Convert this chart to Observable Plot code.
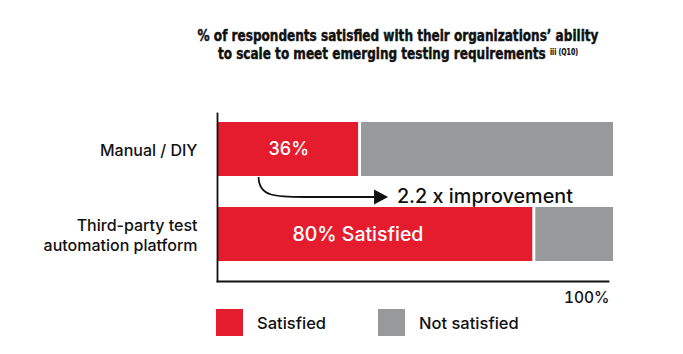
<!DOCTYPE html>
<html><head><meta charset="utf-8">
<script src="https://cdn.jsdelivr.net/npm/d3@7"></script>
<script src="https://cdn.jsdelivr.net/npm/@observablehq/plot@0.6"></script>
<style>
body{margin:0;background:#fff;}
#wrap{position:relative;width:683px;height:354px;overflow:hidden;font-family:Inter,"Noto Sans",sans-serif;}
#title{position:absolute;left:150px;width:496px;top:28px;text-align:center;font-family:"Liberation Sans Narrow","DejaVu Sans Condensed",sans-serif;font-weight:bold;font-size:15.5px;line-height:17.5px;color:#111;transform:scaleX(0.865);transform-origin:center top;white-space:nowrap;-webkit-text-stroke:0.45px #111}
#title sup{font-size:8px;vertical-align:top;position:relative;top:-2px;-webkit-text-stroke:0.2px #111}
#chart{position:absolute;left:0;top:0}
#legend{position:absolute;top:309px;left:216px;display:flex;align-items:center;font-size:16.5px;font-weight:500;color:#111}
.item{display:flex;align-items:center}
.sw{width:27px;height:27px;display:inline-block;margin-right:14px}
</style></head>
<body>
<div id="wrap">
  <div id="chart"></div>
  <div id="title"></div>
  <div id="legend"></div>
</div>
<script>
// ---- data ----
const titleLines = ["% of respondents satisfied with their organizations\u2019 ability", "to scale to meet emerging testing requirements"];
const titleNote = "iii (Q10)";
const categories = ["Manual / DIY", "Third-party test\nautomation platform"];
const satisfied = [36, 80];
const total = 100;
const barLabels = ["36%", "80% Satisfied"];
const statusNames = ["Satisfied", "Not satisfied"];
const statusColors = ["#E51C2D", "#98999B"];
const improvementText = "2.2 x improvement";
const arrowFrom = 10.5;   // x (in %) where the arrow leaves the Manual bar
const arrowTo = 43.2;     // x (in %) of the arrow tip
const improvementAt = 45.3;

// ---- title ----
document.getElementById("title").innerHTML =
  titleLines[0] + "<br>" + titleLines[1] + " <sup>" + titleNote + "</sup>";

// ---- legend ----
const legend = document.getElementById("legend");
statusNames.forEach((s, i) => {
  const it = document.createElement("div");
  it.className = "item";
  if (i === 0) it.style.width = "162px";
  it.innerHTML = `<span class="sw" style="background:${statusColors[i]}"></span><span>${s}</span>`;
  legend.appendChild(it);
});

const rows = categories.map((c, i) => ({cat: c, sat: satisfied[i], label: barLabels[i]}));

function arrowMark(index, scales) {
  const x = scales.x, y = scales.y;
  let bw = y.bandwidth;
  if (typeof bw === "function") bw = bw();
  if (!(bw > 0)) bw = 0;
  const yb = y(categories[0]) + bw;       // bottom of first bar
  const hy = y(categories[1]) - 10;       // arrow level
  const sx = x(arrowFrom), ex = x(arrowTo);
  const g = d3.create("svg:g");
  g.append("path")
    .attr("d", `M${sx},${yb + 1} C${sx},${hy} ${sx + 18},${hy} ${sx + 46},${hy} L${ex - 12},${hy}`)
    .attr("fill", "none").attr("stroke", "#111").attr("stroke-width", 1.8);
  g.append("path")
    .attr("d", `M${ex},${hy} L${ex - 14},${hy - 7.5} L${ex - 14},${hy + 7.5} Z`)
    .attr("fill", "#111");
  return g.node();
}

const chart = Plot.plot({
  width: 683,
  height: 354,
  marginLeft: 217,
  marginRight: 75,
  marginTop: 113,
  marginBottom: 73,
  style: {fontFamily: "Inter, 'Noto Sans', sans-serif", background: "transparent", color: "#111"},
  x: {domain: [0, total], range: [217, 613]},
  y: {domain: categories, range: [121, 262], paddingInner: 0.36, paddingOuter: 0},
  marks: [
    Plot.barX(rows, {x1: 0, x2: "sat", y: "cat", fill: statusColors[0], insetRight: 1.5}),
    Plot.barX(rows, {x1: "sat", x2: total, y: "cat", fill: statusColors[1], insetLeft: 1.5}),
    Plot.frame({anchor: "left", stroke: "#111", strokeWidth: 1.8}),
    Plot.frame({anchor: "bottom", stroke: "#111", strokeWidth: 1.8}),
    Plot.axisY({tickSize: 0, tickPadding: 20, fontSize: 16, fontWeight: 500, lineHeight: 1.25, label: null, fill: "#111"}),
    Plot.axisX({ticks: [total], tickSize: 0, tickPadding: 10, tickFormat: d => d + "%", textAnchor: "end", dx: -4, fontSize: 15.5, fontWeight: 500, label: null, fill: "#111"}),
    Plot.text([rows[0]], {x: d => d.sat / 2, y: "cat", text: "label", fill: "white", fontSize: 18, fontWeight: 500}),
    Plot.text([rows[1]], {x: d => d.sat / 2, y: "cat", text: "label", fill: "white", fontSize: 19.5, fontWeight: 500, dx: -18}),
    arrowMark,
    Plot.text([improvementText], {x: () => improvementAt, y: () => categories[1], text: d => d, textAnchor: "start", dy: -38, fontSize: 19.8, fontWeight: 500, fill: "#111"})
  ]
});
document.getElementById("chart").appendChild(chart);
</script>
</body></html>
